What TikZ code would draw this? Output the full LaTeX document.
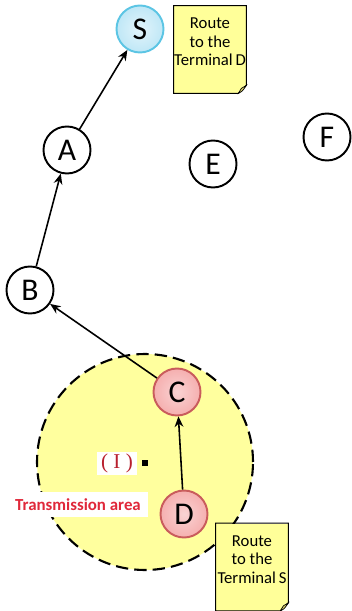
\documentclass[tikz,border=0pt]{standalone}
\usepackage{fontspec}
\setmainfont{Carlito}
\newfontfamily\romanI{Liberation Serif}
\usetikzlibrary{arrows.meta}

\definecolor{padyellow}{HTML}{FFFF99}
\definecolor{areayellow}{HTML}{FFFF9E}
\definecolor{foldyellow}{HTML}{D9CF6A}
\definecolor{skyfill}{HTML}{BFE7F6}
\definecolor{skyline}{HTML}{5CC5E4}
\definecolor{rosefill}{HTML}{F5AFAF}
\definecolor{roseline}{HTML}{C95C5C}
\definecolor{labelred}{HTML}{E0283A}
\definecolor{idred}{HTML}{B8202E}

\begin{document}
\begin{tikzpicture}[
    station/.style={circle, draw, line width=1.1pt, fill=white, minimum size=0.94cm, inner sep=0pt, font=\fontsize{18}{18}\selectfont},
    source/.style={station, draw=skyline, inner color=white!55!skyfill, outer color=skyfill},
    relay/.style={station, draw=roseline, inner color=white!45!rosefill, outer color=rosefill},
    memo/.style={fill=padyellow, minimum width=1.44cm, minimum height=1.74cm, inner sep=0pt, align=center, font=\fontsize{9.5}{10.5}\selectfont},
    rangecircle/.style={circle, draw, dash pattern=on 7pt off 3.5pt, line width=1.2pt, fill=areayellow, minimum size=4.32cm},
    hop/.style={-{Stealth[length=6pt, width=5pt]}, line width=0.9pt}
  ]
      \useasboundingbox (0,0) rectangle (7.02,-12.22);

      % Transmission range
      \node[rangecircle] (range) at (2.90,-9.24) {};
      \node[fill, inner sep=0pt, minimum size=3.5pt] (centre) at (2.90,-9.26) {};
      \node[fill=white, minimum width=0.8cm, minimum height=0.46cm, inner sep=0pt, text=idred, font=\romanI\fontsize{12}{12}\selectfont] (idlabel) at (2.34,-9.26) {( I )};
      \node[fill=white, minimum width=2.8cm, minimum height=0.5cm, inner sep=0pt, text=labelred, font=\bfseries\fontsize{9.6}{9.6}\selectfont] (arealabel) at (1.56,-10.09) {Transmission area};

      % Nodes
      \node[source] (S) at (2.80,-0.58) {S};
      \node[station] (A) at (1.34,-3.00) {A};
      \node[station] (E) at (4.26,-3.28) {E};
      \node[station] (F) at (6.54,-2.74) {F};
      \node[station] (B) at (0.60,-5.80) {B};
      \node[relay] (C) at (3.54,-7.84) {C};
      \node[relay] (D) at (3.68,-10.28) {D};

      % Route notes
      \node[memo] (routeD) at (4.20,-0.99) {Route\\to the\\Terminal\,D\\[-2pt]};
      \fill[white] ([yshift=0.16cm]routeD.south east) -- (routeD.south east) -- ([xshift=-0.16cm]routeD.south east) -- cycle;
      \draw[line width=0.6pt] (routeD.north west) -- (routeD.north east) -- ([yshift=0.16cm]routeD.south east) -- ([xshift=-0.16cm]routeD.south east) -- (routeD.south west) -- cycle;
      \filldraw[fill=foldyellow, line width=0.4pt] ([yshift=0.16cm]routeD.south east) .. controls ([xshift=-0.08cm, yshift=0.04cm]routeD.south east) .. ([xshift=-0.16cm]routeD.south east) -- ([xshift=-0.1cm, yshift=0.1cm]routeD.south east) -- cycle;

      \node[memo] (routeS) at (5.04,-11.34) {Route\\to the\\Terminal\,S\\[-2pt]};
      \fill[white] ([yshift=0.16cm]routeS.south east) -- (routeS.south east) -- ([xshift=-0.16cm]routeS.south east) -- cycle;
      \draw[line width=0.6pt] (routeS.north west) -- (routeS.north east) -- ([yshift=0.16cm]routeS.south east) -- ([xshift=-0.16cm]routeS.south east) -- (routeS.south west) -- cycle;
      \filldraw[fill=foldyellow, line width=0.4pt] ([yshift=0.16cm]routeS.south east) .. controls ([xshift=-0.08cm, yshift=0.04cm]routeS.south east) .. ([xshift=-0.16cm]routeS.south east) -- ([xshift=-0.1cm, yshift=0.1cm]routeS.south east) -- cycle;

      % Edges
      \draw[hop] (D) -- (C);
      \draw[hop] (C) -- (B);
      \draw[hop] (B) -- (A);
      \draw[hop] (A) -- (S);
\end{tikzpicture}
\end{document}
